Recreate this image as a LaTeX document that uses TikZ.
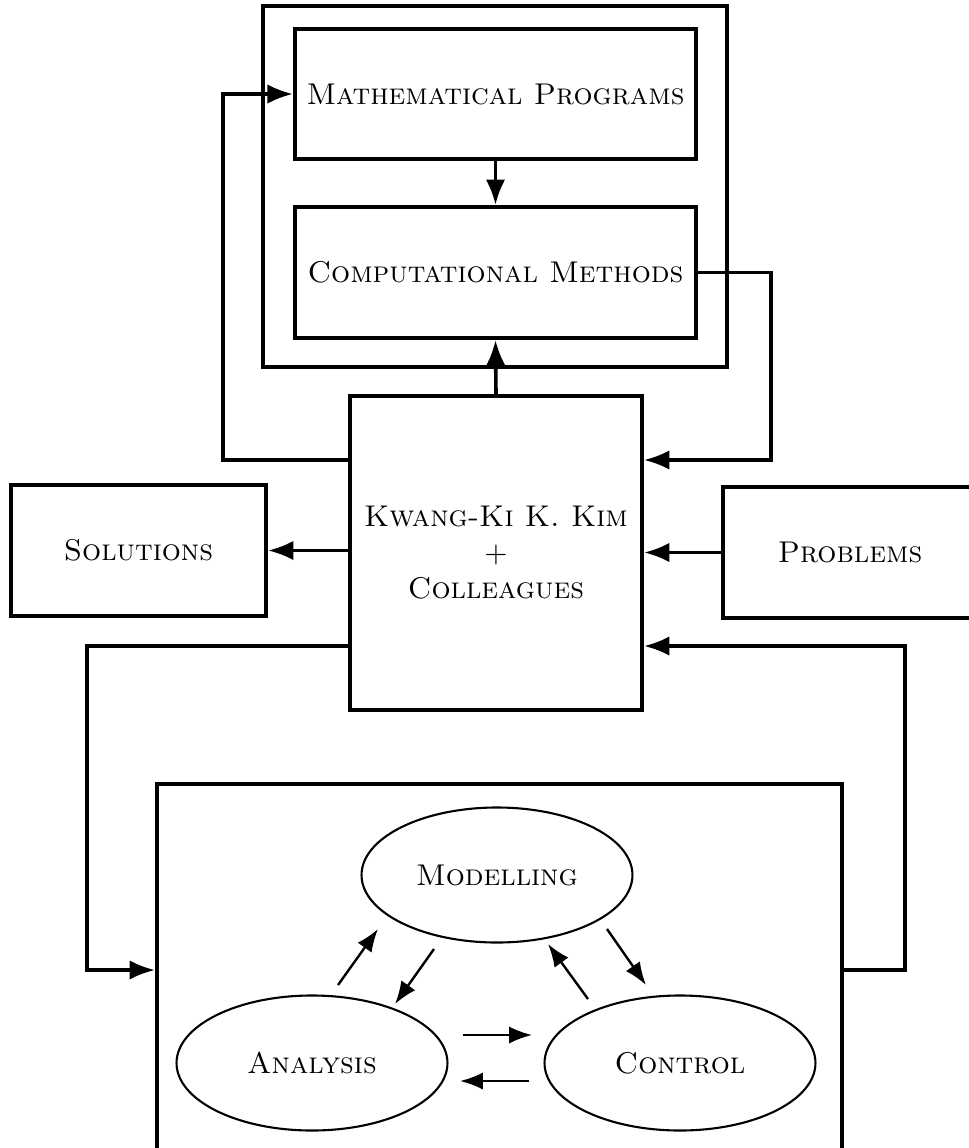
\documentclass[tikz,border=0pt]{standalone}
\usepackage{amsmath}
\usetikzlibrary{positioning,shapes.geometric,arrows.meta}

\begin{document}
\begin{tikzpicture}[x=0.3333pt,y=-0.3333pt,
        block/.style={rectangle, draw=black, line width=1.3pt, align=center},
        oval/.style={ellipse, draw=black, line width=0.7pt, minimum width=90.3pt, minimum height=45pt},
        link/.style={-{Latex[length=8.5pt,width=6.5pt]}, line width=1.2pt},
        flow/.style={-{Latex[length=7.6pt,width=5.7pt]}, line width=0.8pt}]
        \useasboundingbox (0,0) rectangle (969,1148);
        \clip (0,0) rectangle (969,1148);

        \node[block, minimum width=154.7pt, minimum height=120.3pt](tools) at (495,186.5) {};
        \node[block, minimum width=133.7pt, minimum height=43.3pt](prog) at (495.5,94) {\textsc{Mathematical Programs}};
        \node[block, minimum width=133.7pt, minimum height=43.7pt](comp) at (495.5,272.5) {\textsc{Computational Methods}};
        \node[block, minimum width=97.3pt, minimum height=104.7pt](kim) at (496,553) {\textsc{Kwang-Ki K. Kim}\\$+$\\\textsc{Colleagues}};
        \node[block, minimum width=85pt, minimum height=43.7pt](sol) at (138.5,550.5) {\textsc{Solutions}};
        \node[block, minimum width=84.7pt, minimum height=43.7pt](prob) at (850,552.5) {\textsc{Problems}};
        \node[block, minimum width=228.3pt, minimum height=124pt](world) at (499.5,970) {};

        \node[oval](model) at (497,875) {\textsc{Modelling}};
        \node[oval](anal) at (312,1063) {\textsc{Analysis}};
        \node[oval](ctrl) at (680,1063) {\textsc{Control}};

        \draw[link] (prog.south) -- (comp.north);
        \draw[link] (kim.north) -- (comp.south);
        \draw[link] ([yshift=31pt]kim.west) -- ++(-125,0) |- (prog.west);
        \draw[link] (comp.east) -- ++(73,0) |- ([yshift=31pt]kim.east);
        \draw[link] (kim.west |- sol.east) -- (sol.east);
        \draw[link] (prob.west) -- (kim.east |- prob.west);
        \draw[link] ([yshift=-31pt]kim.west) -- ++(-261,0) |- (world.west);
        \draw[link] (world.east) -- ++(61,0) |- ([yshift=-31pt]kim.east);

        \coordinate (am0) at (338,985);
        \coordinate (am1) at (378,929);
        \coordinate (ma0) at (434,949);
        \coordinate (ma1) at (395,1004);
        \coordinate (mc0) at (607,929);
        \coordinate (mc1) at (646,985);
        \coordinate (cm0) at (588,999);
        \coordinate (cm1) at (548,944);
        \coordinate (ac0) at (463,1035);
        \coordinate (ac1) at (532,1035);
        \coordinate (ca0) at (529,1081);
        \coordinate (ca1) at (460,1081);

        \draw[flow] (am0) -- (am1);
        \draw[flow] (ma0) -- (ma1);
        \draw[flow] (mc0) -- (mc1);
        \draw[flow] (cm0) -- (cm1);
        \draw[flow] (ac0) -- (ac1);
        \draw[flow] (ca0) -- (ca1);
    \end{tikzpicture}
\end{document}
